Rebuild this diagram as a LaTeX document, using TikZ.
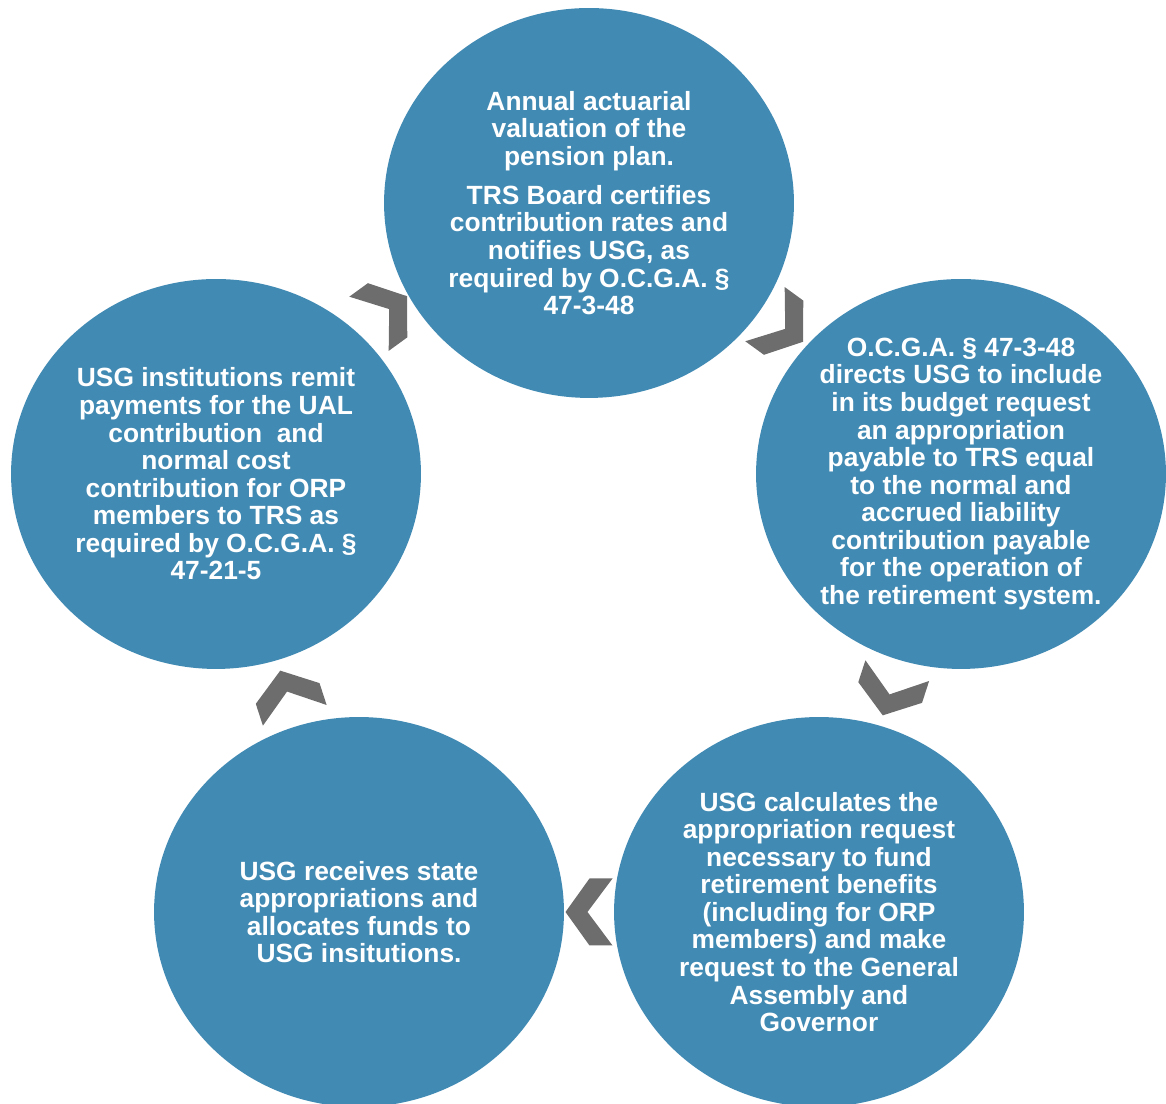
\documentclass[tikz,border=0pt]{standalone}
\usepackage{fontspec}
\setmainfont{Liberation Sans}
\usetikzlibrary{shapes.geometric, calc}
\definecolor{stageblue}{HTML}{418AB3}
\definecolor{chevgray}{HTML}{6D6D6D}

\begin{document}
\begin{tikzpicture}[
    x=0.02cm, y=0.02cm,
    stage/.style={ellipse, fill=stageblue, inner sep=0pt, minimum width=8.2cm, minimum height=7.8cm,
        align=center, text=white, font=\fontsize{15}{15.7}\selectfont\bfseries},
    chevron/.pic={\fill[chevgray] (23.5,0) -- (-0.5,33.5) -- (-23.5,33.5) -- (1.5,0) -- (-23.5,-33.5) -- (-0.5,-33.5) -- cycle;}
]
\useasboundingbox (0,0) rectangle (1166,1104);

\node[stage] (trs) at (589,901) {Annual actuarial\\valuation of the\\pension plan.\\[6.5pt]TRS Board certifies\\contribution rates and\\notifies USG, as\\required by O.C.G.A. §\\47-3-48};
\node[stage] (budget) at (961,630) {O.C.G.A. § 47-3-48\\directs USG to include\\in its budget request\\an appropriation\\payable to TRS equal\\to the normal and\\accrued liability\\contribution payable\\for the operation of\\the retirement system.};
\node[stage] (request) at (819,192) {USG calculates the\\appropriation request\\necessary to fund\\retirement benefits\\(including for ORP\\members) and make\\request to the General\\Assembly and\\Governor};
\node[stage] (funds) at (359,192) {USG receives state\\appropriations and\\allocates funds to\\USG insitutions.};
\node[stage] (remit) at (216,630) {USG institutions remit\\payments for the UAL\\contribution \ and\\normal cost\\contribution for ORP\\members to TRS as\\required by O.C.G.A. §\\47-21-5};

% chevrons, clockwise
\pic[rotate=36] at ($(remit)!0.5!(trs)+(-14.5,28.5)$) {chevron};
\pic[rotate=-36] at ($(trs)!0.5!(budget)+(9,10.5)$) {chevron};
\pic[rotate=-108] at ($(budget)!0.5!(request)$) {chevron};
\pic[rotate=180] at ($(request)!0.5!(funds)$) {chevron};
\pic[rotate=108] at ($(funds)!0.5!(remit)$) {chevron};
\end{tikzpicture}
\end{document}
